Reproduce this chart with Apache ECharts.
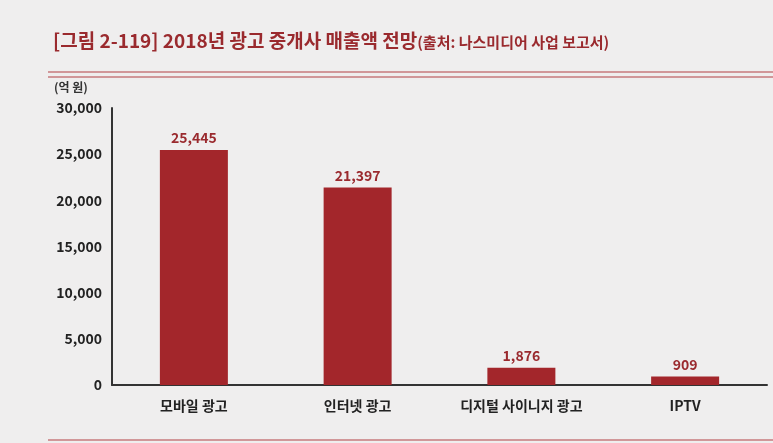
<!DOCTYPE html>
<html><head><meta charset="utf-8">
<script src="https://cdn.jsdelivr.net/npm/echarts@6/dist/echarts.min.js"></script>
<style>html,body{margin:0;padding:0;background:#efeeee}#c{width:773px;height:443px}</style>
</head><body><div id="c"></div>
<script>
const categories = ['모바일 광고','인터넷 광고','디지털 사이니지 광고','IPTV'];
const values = [25445, 21397, 1876, 909];
const yTicks = [0,5000,10000,15000,20000,25000,30000];
const chart = echarts.init(document.getElementById('c'));
const font = '"Noto Sans CJK KR","Noto Sans",sans-serif';
chart.setOption({
  backgroundColor:'#efeeee',
  textStyle:{fontFamily:font},
  title:{text:'{a|[그림 2-119] 2018년 광고 중개사 매출액 전망}{b|(출처: 나스미디어 사업 보고서)}',left:48,top:26,
    textStyle:{rich:{
      a:{color:'#9a2a2e',fontSize:19,fontFamily:font},
      b:{color:'#9a2a2e',fontSize:15,fontFamily:font,padding:[3,0,0,0]}}}},
  graphic:[
    {type:'line',shape:{x1:48,y1:72,x2:773,y2:72},style:{stroke:'#c77a7c',lineWidth:1.5}},
    {type:'line',shape:{x1:48,y1:77,x2:773,y2:77},style:{stroke:'#c77a7c',lineWidth:1.5}},
    {type:'text',left:54,top:81,style:{text:'(억 원)',fill:'#333',font:'bold 12px '+font}},
    {type:'line',shape:{x1:48,y1:440,x2:773,y2:440},style:{stroke:'#c77a7c',lineWidth:1.5}}
  ],
  grid:{left:112,right:6,top:108,bottom:58},
  xAxis:{type:'category',data:categories,
    axisLine:{lineStyle:{color:'#333',width:2}},axisTick:{show:false},
    axisLabel:{color:'#222',fontSize:14,margin:14,fontWeight:'bold'}},
  yAxis:{type:'value',min:0,max:30000,interval:5000,
    axisLine:{show:true,lineStyle:{color:'#333',width:2}},splitLine:{show:false},
    axisLabel:{color:'#222',fontSize:14,margin:10,fontWeight:'bold',
      formatter:v=>v.toLocaleString('en-US')}},
  series:[{type:'bar',data:values,barWidth:68,itemStyle:{color:'#a3262b'},
    label:{show:true,position:'top',color:'#9a2a2e',fontSize:14,fontWeight:'bold',
      formatter:p=>p.value.toLocaleString('en-US')}}]
});
</script></body></html>
